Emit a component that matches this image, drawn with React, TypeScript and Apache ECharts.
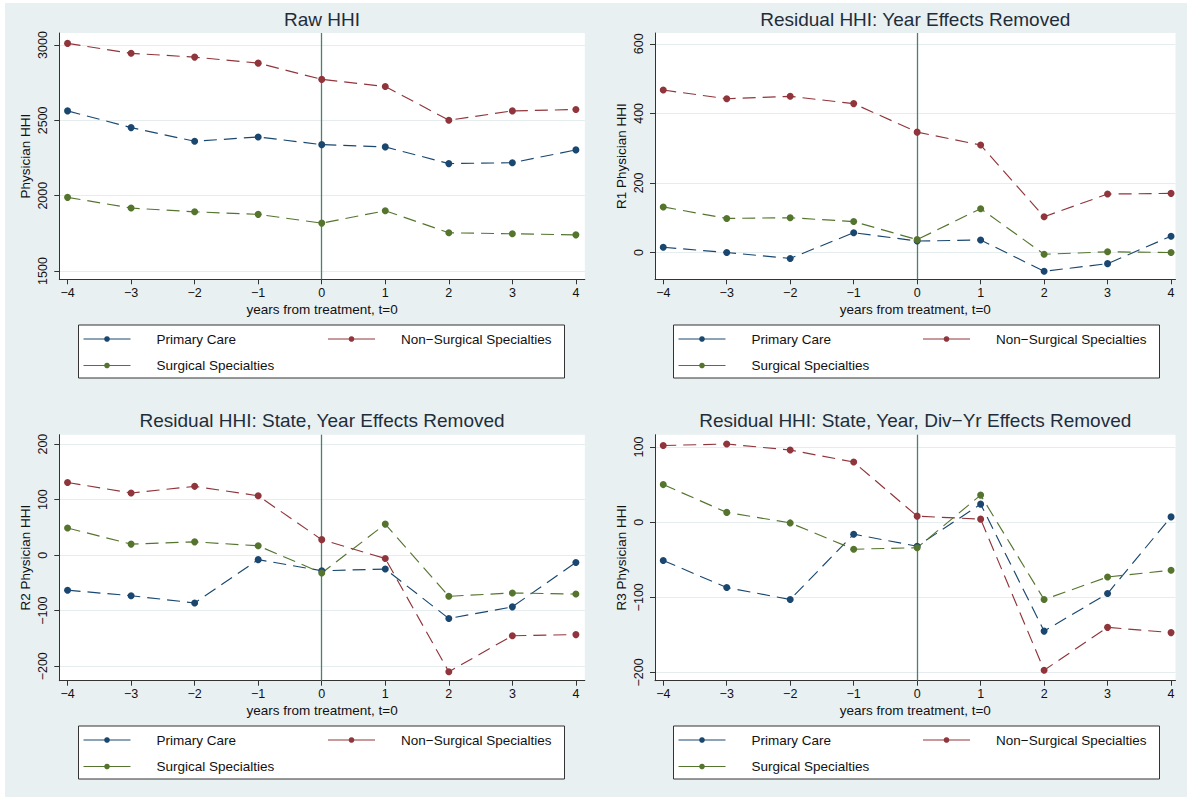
import React, { useEffect, useRef } from "react";
import * as echarts from "echarts";

// ---------- data ----------
const years = [-4, -3, -2, -1, 0, 1, 2, 3, 4];
const groupNames = ["Primary Care", "Non−Surgical Specialties", "Surgical Specialties"];

const rawPrimary = [2563, 2452, 2361, 2390, 2339, 2324, 2213, 2219, 2304];
const rawNonSurgical = [3011, 2945, 2920, 2880, 2772, 2725, 2501, 2563, 2572];
const rawSurgical = [1989, 1918, 1893, 1876, 1818, 1900, 1754, 1747, 1740];

const r1Primary = [15, 0, -17, 57, 33, 36, -54, -32, 47];
const r1NonSurgical = [467, 442, 449, 428, 346, 309, 103, 168, 170];
const r1Surgical = [131, 98, 100, 89, 37, 126, -5, 2, 0];

const r2Primary = [-63, -73, -86, -8, -28, -25, -114, -93, -13];
const r2NonSurgical = [131, 112, 124, 107, 28, -6, -210, -145, -143];
const r2Surgical = [49, 20, 24, 17, -32, 56, -74, -68, -70];

const r3Primary = [-51, -87, -103, -16, -32, 24, -145, -95, 7];
const r3NonSurgical = [102, 104, 96, 80, 8, 4, -197, -140, -147];
const r3Surgical = [50, 13, -1, -36, -34, 36, -103, -73, -64];

const panelTitles = [
  "Raw HHI",
  "Residual HHI: Year Effects Removed",
  "Residual HHI: State, Year Effects Removed",
  "Residual HHI: State, Year, Div−Yr Effects Removed",
];
const yAxisTitles = ["Physician HHI", "R1 Physician HHI", "R2 Physician HHI", "R3 Physician HHI"];
const xAxisTitle = "years from treatment, t=0";
const yTicks1 = [1500, 2000, 2500, 3000];
const yTicks2 = [0, 200, 400, 600];
const yTicks3 = [-200, -100, 0, 100, 200];
const yTicks4 = [-200, -100, 0, 100];

const panelData = [
  [rawPrimary, rawNonSurgical, rawSurgical],
  [r1Primary, r1NonSurgical, r1Surgical],
  [r2Primary, r2NonSurgical, r2Surgical],
  [r3Primary, r3NonSurgical, r3Surgical],
];
const panelTicks = [yTicks1, yTicks2, yTicks3, yTicks4];

// ---------- layout / style ----------
const FONT = '"Liberation Sans", Arial, Helvetica, sans-serif';
const COLORS = ["#1a476f", "#90353b", "#55752f"];
const BG = "#e9f0f2";
const AXIS = "#333333";
const VLINE = "#4a7f74";

const layout = [
  { left: 59.3, top: 33, width: 525.5, height: 246.3, xMin: -4.13, xMax: 4.14, yMin: 1445, yMax: 3080, dx: 0, dy: 0 },
  { left: 655, top: 33, width: 520.5, height: 246.3, xMin: -4.13, xMax: 4.07, yMin: -77, yMax: 631, dx: 595, dy: 0 },
  { left: 59.3, top: 434.7, width: 525.5, height: 246, xMin: -4.13, xMax: 4.14, yMin: -226, yMax: 217, dx: 0, dy: 401 },
  { left: 655, top: 434.7, width: 520.5, height: 246, xMin: -4.13, xMax: 4.07, yMin: -211, yMax: 116.4, dx: 595, dy: 401 },
];

const fmt = (v: number) => String(v).replace("-", "−");

function buildOption() {
  const grid: any[] = [];
  const xAxis: any[] = [];
  const yAxis: any[] = [];
  const series: any[] = [];
  const title: any[] = [];
  const legend: any[] = [];
  const graphic: any[] = [
    { type: "rect", z: -10, shape: { x: 5, y: 3, width: 1182, height: 794 }, style: { fill: BG }, silent: true },
  ];

  layout.forEach((p, i) => {
    grid.push({
      left: p.left, top: p.top, width: p.width, height: p.height,
      show: true, backgroundColor: "#ffffff", borderWidth: 0,
      containLabel: false, outerBoundsMode: "none",
    });
    title.push({
      text: panelTitles[i],
      left: p.left + p.width / 2,
      top: p.top - 14,
      textAlign: "center",
      textVerticalAlign: "middle",
      padding: 0,
      textStyle: { fontSize: 19, fontWeight: "normal", color: "#1f2d3a", fontFamily: FONT },
    });
    xAxis.push({
      type: "value", gridIndex: i, min: p.xMin, max: p.xMax,
      name: xAxisTitle, nameLocation: "middle", nameGap: 23,
      nameTextStyle: { fontSize: 13.5, color: "#111", fontFamily: FONT },
      axisLine: { show: true, onZero: false, lineStyle: { color: AXIS, width: 1 } },
      axisTick: { show: true, length: 5, customValues: years, lineStyle: { color: AXIS, width: 1 } },
      axisLabel: { show: true, customValues: years, margin: 7, fontSize: 12.5, color: "#111", fontFamily: FONT, formatter: fmt },
      splitLine: { show: false },
    });
    yAxis.push({
      type: "value", gridIndex: i, min: p.yMin, max: p.yMax,
      name: yAxisTitles[i], nameLocation: "middle", nameGap: 27, nameRotate: 90,
      nameTextStyle: { fontSize: 13.5, color: "#111", fontFamily: FONT },
      axisLine: { show: true, onZero: false, lineStyle: { color: AXIS, width: 1 } },
      axisTick: { show: true, length: 5, customValues: panelTicks[i], lineStyle: { color: AXIS, width: 1 } },
      axisLabel: { show: true, customValues: panelTicks[i], rotate: 90, margin: 10, fontSize: 12.5, color: "#111", fontFamily: FONT, formatter: fmt },
      splitLine: { show: true, lineStyle: { color: "#e6edef", width: 1 } },
    });
    panelData[i].forEach((vals, s) => {
      const ser: any = {
        type: "line",
        name: groupNames[s],
        xAxisIndex: i,
        yAxisIndex: i,
        data: years.map((x, k) => [x, vals[k]]),
        symbol: "circle",
        symbolSize: 7,
        showSymbol: true,
        lineStyle: { color: COLORS[s], width: 1.15, type: [13, 7] },
        itemStyle: { color: COLORS[s] },
        emphasis: { disabled: true },
      };
      if (s === 0) {
        ser.markLine = {
          silent: true,
          symbol: ["none", "none"],
          label: { show: false },
          lineStyle: { color: VLINE, type: "solid", width: 1.3 },
          data: [{ xAxis: 0 }],
          z: 1,
        };
      }
      series.push(ser);
    });

    // legend box and items
    graphic.push({
      type: "rect",
      z: 1,
      shape: { x: 78.5 + p.dx, y: 325 + p.dy, width: 486, height: 53 },
      style: { fill: "#ffffff", stroke: "#333333", lineWidth: 1 },
      silent: true,
    });
    const items = [
      { name: groupNames[0], left: 83, top: 332 },
      { name: groupNames[1], left: 327.5, top: 332 },
      { name: groupNames[2], left: 83, top: 358.5 },
    ];
    items.forEach((it) => {
      legend.push({
        show: true,
        data: [it.name],
        left: it.left + p.dx,
        top: it.top + p.dy,
        padding: 0,
        itemWidth: 47,
        itemHeight: 7,
        selectedMode: false,
        lineStyle: { type: "solid", width: 1 },
        textStyle: { fontSize: 13.5, color: "#111", fontFamily: FONT, padding: [0, 0, 0, 21] },
      });
    });
  });

  return {
    animation: false,
    backgroundColor: "#ffffff",
    textStyle: { fontFamily: FONT },
    title,
    grid,
    xAxis,
    yAxis,
    legend,
    series,
    graphic,
  };
}

export default function App() {
  const ref = useRef<HTMLDivElement | null>(null);
  useEffect(() => {
    document.body.style.margin = "0";
    if (!ref.current) return;
    const chart = echarts.init(ref.current, undefined, { renderer: "svg" });
    chart.setOption(buildOption() as any);
    return () => {
      chart.dispose();
    };
  }, []);
  return <div ref={ref} style={{ width: 1187, height: 797 }} />;
}
